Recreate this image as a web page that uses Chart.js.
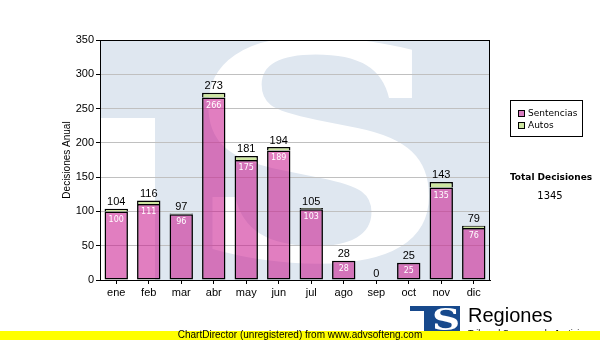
<!DOCTYPE html>
<html>
<head>
<meta charset="utf-8">
<script src="https://cdn.jsdelivr.net/npm/chart.js@4/dist/chart.umd.min.js"></script>
<style>
    html, body { margin: 0; padding: 0; background: #fff; }
    #wrap { width: 600px; height: 340px; position: relative; }
</style>
</head>
<body>
<div id="wrap"><canvas id="decisionesChart" width="600" height="340"></canvas></div>
<script>
const meses = ['ene', 'feb', 'mar', 'abr', 'may', 'jun', 'jul', 'ago', 'sep', 'oct', 'nov', 'dic'];
const sentencias = [100, 111, 96, 266, 175, 189, 103, 28, 0, 25, 135, 76];
const autos = [4, 5, 1, 7, 6, 5, 2, 0, 0, 0, 8, 3];
const totalDecisiones = 1345;

const SANS = '"Liberation Sans", Arial, sans-serif';
const VERDANA = '"DejaVu Sans", Verdana, sans-serif';

// big "S" logo behind the plot area
const watermarkPlugin = {
    id: 'watermark',
    beforeDraw(chart) {
        const ctx = chart.ctx;
        const a = chart.chartArea;
        ctx.save();
        ctx.beginPath();
        ctx.rect(a.left, a.top, a.right - a.left, a.bottom - a.top);
        ctx.clip();
        ctx.fillStyle = '#dfe7f0';
        ctx.fillRect(a.left, a.top, a.right - a.left, a.bottom - a.top);
        ctx.fillStyle = '#ffffff';
        ctx.fillRect(a.left, 118, 155 - a.left, a.bottom - 118);

        ctx.font = 'bold 200px "DejaVu Serif", serif';
        const m = ctx.measureText('S');
        const gw = m.actualBoundingBoxLeft + m.actualBoundingBoxRight;
        const gh = m.actualBoundingBoxAscent + m.actualBoundingBoxDescent;
        ctx.translate(208, 36);
        ctx.scale(222 / gw, 228 / gh);
        ctx.textBaseline = 'alphabetic';
        ctx.fillText('S', m.actualBoundingBoxLeft, m.actualBoundingBoxAscent);
        ctx.restore();
    }
};

// totals above each stack, sentencias count inside the bar
const valueLabels = {
    id: 'valueLabels',
    afterDatasetsDraw(chart) {
        const ctx = chart.ctx;
        const metaS = chart.getDatasetMeta(0);
        const metaA = chart.getDatasetMeta(1);
        ctx.save();
        ctx.textAlign = 'center';
        meses.forEach((m, i) => {
            const top = metaA.data[i];
            ctx.fillStyle = '#000';
            ctx.font = '11px ' + SANS;
            ctx.textBaseline = 'bottom';
            ctx.fillText(String(sentencias[i] + autos[i]), top.x, top.y - 1);

            if (sentencias[i] > 0) {
                const bar = metaS.data[i];
                ctx.fillStyle = '#fff';
                ctx.font = '8px ' + VERDANA;
                ctx.textBaseline = 'top';
                ctx.fillText(String(sentencias[i]), bar.x, bar.y + 4);
            }
        });
        ctx.restore();
    }
};

const decorations = {
    id: 'decorations',
    afterDraw(chart) {
        const ctx = chart.ctx;
        const a = chart.chartArea;
        ctx.save();

        // frame around the plot
        ctx.strokeStyle = '#000';
        ctx.lineWidth = 1;
        ctx.strokeRect(a.left + 0.5, a.top + 0.5, a.right - a.left - 1, a.bottom - a.top);

        // axis title
        ctx.save();
        ctx.translate(67, (a.top + a.bottom) / 2);
        ctx.rotate(-Math.PI / 2);
        ctx.fillStyle = '#000';
        ctx.font = '10px ' + SANS;
        ctx.textAlign = 'center';
        ctx.textBaseline = 'middle';
        ctx.fillText('Decisiones Anual', 0, 0);
        ctx.restore();

        // legend
        ctx.fillStyle = '#fff';
        ctx.fillRect(510, 100, 72, 36);
        ctx.strokeRect(510.5, 100.5, 72, 36);
        const items = chart.data.datasets;
        items.forEach((ds, k) => {
            const y = 110 + k * 12;
            ctx.fillStyle = ds.legendColor;
            ctx.fillRect(518, y, 7, 7);
            ctx.strokeStyle = '#000';
            ctx.strokeRect(518.5, y + 0.5, 6, 6);
            ctx.fillStyle = '#000';
            ctx.font = '9px ' + VERDANA;
            ctx.textAlign = 'left';
            ctx.textBaseline = 'middle';
            ctx.fillText(ds.label, 528, y + 4);
        });

        // grand total
        ctx.textAlign = 'center';
        ctx.textBaseline = 'middle';
        ctx.font = 'bold 9px ' + VERDANA;
        ctx.fillText('Total Decisiones', 551, 178);
        ctx.font = '10px ' + VERDANA;
        ctx.fillText(String(totalDecisiones), 550, 196);

        // logo
        ctx.fillStyle = '#17498c';
        ctx.fillRect(410, 306, 50, 28);
        ctx.fillStyle = '#fff';
        ctx.fillRect(410, 311, 14, 23);
        ctx.save();
        ctx.font = 'bold 30px "DejaVu Serif", serif';
        ctx.translate(446, 322);
        ctx.scale(1.3, 1);
        ctx.fillText('S', 0, 0);
        ctx.restore();
        ctx.fillStyle = '#000';
        ctx.textAlign = 'left';
        ctx.textBaseline = 'alphabetic';
        ctx.font = '20px ' + SANS;
        ctx.fillText('Regiones', 468, 322);
        ctx.font = '9px ' + SANS;
        ctx.fillText('Tribunal Supremo de Justicia', 468, 336);

        // footer strip
        ctx.fillStyle = '#ffff00';
        ctx.fillRect(0, 331, 600, 9);
        ctx.fillStyle = '#000';
        ctx.font = '10px ' + SANS;
        ctx.textAlign = 'center';
        ctx.textBaseline = 'middle';
        ctx.fillText('ChartDirector (unregistered) from www.advsofteng.com', 300, 335.5);

        ctx.restore();
    }
};

function createDecisionesChart() {
    const ctx = document.getElementById('decisionesChart').getContext('2d');
    new Chart(ctx, {
        type: 'bar',
        data: {
            labels: meses,
            datasets: [{
                label: 'Sentencias',
                data: sentencias,
                backgroundColor: 'rgba(200, 20, 140, 0.55)',
                legendColor: '#d77cc0',
                borderColor: '#000',
                borderWidth: 1.5,
                borderSkipped: false
            }, {
                label: 'Autos',
                data: autos,
                backgroundColor: '#cde6a0',
                legendColor: '#cde6a0',
                borderColor: '#000',
                borderWidth: 1.5,
                borderSkipped: 'bottom'
            }]
        },
        options: {
            responsive: false,
            animation: false,
            layout: {
                padding: { top: 40, right: 110, left: 0, bottom: 0 }
            },
            datasets: {
                bar: {
                    categoryPercentage: 1,
                    barPercentage: 0.72
                }
            },
            scales: {
                x: {
                    stacked: true,
                    afterFit: (scale) => { scale.height = 60; },
                    grid: {
                        offset: false,
                        drawOnChartArea: false,
                        tickLength: 4,
                        tickColor: '#000'
                    },
                    border: { color: '#000' },
                    ticks: {
                        color: '#000',
                        padding: 2,
                        font: { family: SANS, size: 11 }
                    }
                },
                y: {
                    stacked: true,
                    min: 0,
                    max: 350,
                    afterFit: (scale) => { scale.width = 100; },
                    grid: {
                        color: '#c0c0c0',
                        tickLength: 4,
                        tickColor: '#000'
                    },
                    border: { color: '#000' },
                    ticks: {
                        stepSize: 50,
                        color: '#000',
                        padding: 2,
                        font: { family: SANS, size: 11 }
                    }
                }
            },
            plugins: {
                legend: { display: false },
                tooltip: { enabled: false }
            }
        },
        plugins: [watermarkPlugin, valueLabels, decorations]
    });
}

createDecisionesChart();
</script>
</body>
</html>
